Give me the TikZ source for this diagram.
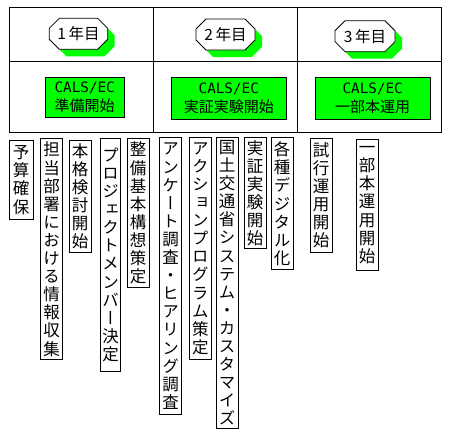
\documentclass[tikz,border=0pt]{standalone}
\usepackage{fontspec}
\newfontfamily\cjk{Noto Sans CJK JP}
\newfontfamily\cjkv[RawFeature=+vert]{Noto Sans CJK JP}
\newfontfamily\monof{DejaVu Sans Mono}
\usetikzlibrary{shapes.misc,shadows}
\definecolor{lgreen}{RGB}{0,255,0}
\begin{document}
\begin{tikzpicture}[x=1pt,y=-1pt,
  lw/.style={line width=0.8pt},
  yearbox/.style={lw,draw,fill=white,chamfered rectangle,
    chamfered rectangle xsep=8.5pt,inner sep=0pt,
    minimum height=31pt,
    font=\cjk\fontsize{15.5}{17}\selectfont,
    drop shadow={shadow xshift=7pt,shadow yshift=-7pt,fill=lgreen,opacity=1}},
  greenbox/.style={lw,draw,fill=lgreen,inner sep=0pt,align=center,
    font=\fontsize{15}{18.3}\selectfont},
  vbox/.style={lw,draw,fill=white,anchor=north,inner sep=0pt,align=center,
    font=\cjkv\fontsize{16.5}{18.1}\selectfont}]
\useasboundingbox (0,0) rectangle (453,434);
% table
\draw[lw] (9.3,7.3) rectangle (441.7,132.7);
\draw[lw] (9.3,61.3) -- (441.7,61.3);
\draw[lw] (153.3,7.3) -- (153.3,132.7);
\draw[lw] (297.3,7.3) -- (297.3,132.7);
% year labels
\node[yearbox,minimum width=58.4pt] (y1) at (78.5,33.8) {1\,年目};
\node[yearbox,minimum width=59pt] (y2) at (225.5,34.5) {2\,年目};
\node[yearbox,minimum width=60pt] (y3) at (365,36.2) {3\,年目};
% green boxes
\node[greenbox,minimum width=79.3pt,minimum height=40pt] (g1) at (84.7,97.3)
  {{\monof\fontsize{14.3}{18.3}\selectfont CALS/EC}\\{\cjk 準備開始}};
\node[greenbox,minimum width=115.7pt,minimum height=42pt] (g2) at (228.8,98.3)
  {{\monof\fontsize{14.3}{18.3}\selectfont CALS/EC}\\{\cjk 実証実験開始}};
\node[greenbox,minimum width=115.3pt,minimum height=41.7pt] (g3) at (372.7,98.2)
  {{\monof\fontsize{14.3}{18.3}\selectfont CALS/EC}\\{\cjk 一部本運用}};
% vertical items
\node[vbox,minimum width=24.3pt,minimum height=79.3pt] (v1) at (21.2,140)
  {予\\算\\確\\保};
\node[vbox,minimum width=22.4pt,minimum height=221pt] (v2) at (51.5,138.3)
  {担\\当\\部\\署\\に\\お\\け\\る\\情\\報\\収\\集};
\node[vbox,minimum width=22.3pt,minimum height=111.7pt] (v3) at (80.2,140)
  {本\\格\\検\\討\\開\\始};
\node[vbox,minimum width=20.4pt,minimum height=233pt] (v4) at (110.5,138)
  {プ\\ロ\\ジ\\ェ\\ク\\ト\\メ\\ン\\バ\\ー\\決\\定};
\node[vbox,minimum width=22.3pt,minimum height=149.3pt] (v5) at (138.2,138)
  {整\\備\\基\\本\\構\\想\\策\\定};
\node[vbox,minimum width=22.4pt,minimum height=277pt] (v6) at (170.5,137.3)
  {ア\\ン\\ケ\\ー\\ト\\調\\査\\・\\ヒ\\ア\\リ\\ン\\グ\\調\\査};
\node[vbox,minimum width=22pt,minimum height=222.3pt] (v7) at (200.3,137)
  {ア\\ク\\シ\\ョ\\ン\\プ\\ロ\\グ\\ラ\\ム\\策\\定};
\node[vbox,minimum width=22.3pt,minimum height=290.4pt] (v8) at (227.2,137.3)
  {国\\土\\交\\通\\省\\シ\\ス\\テ\\ム\\・\\カ\\ス\\タ\\マ\\イ\\ズ};
\node[vbox,minimum width=21.7pt,minimum height=111pt] (v9) at (255.2,137.3)
  {実\\証\\実\\験\\開\\始};
\node[vbox,minimum width=22.3pt,minimum height=132pt] (v10) at (282.2,137.3)
  {各\\種\\デ\\ジ\\タ\\ル\\化};
\node[vbox,minimum width=22pt,minimum height=113.4pt] (v11) at (321,138.3)
  {試\\行\\運\\用\\開\\始};
\node[vbox,minimum width=22.3pt,minimum height=130.7pt] (v12) at (367.2,139.3)
  {一\\部\\本\\運\\用\\開\\始};
\end{tikzpicture}
\end{document}
